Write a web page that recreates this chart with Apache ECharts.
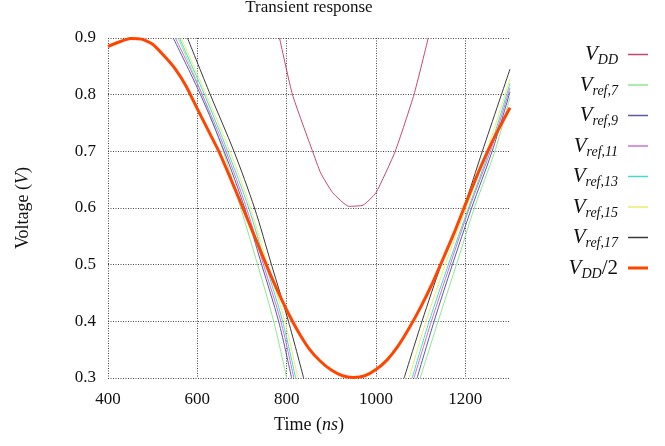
<!DOCTYPE html>
<html>
<head>
<meta charset="utf-8">
<script src="https://cdn.jsdelivr.net/npm/echarts@6/dist/echarts.min.js"></script>
<style>
  html, body { margin: 0; padding: 0; background: #fff; }
  #chart { width: 665px; height: 446px; }
</style>
</head>
<body>
<div id="chart"></div>
<script>
// V_DD/2 (thick orange curve)
const halfTimes = [400, 425, 450, 475, 500, 525, 550, 575, 600, 625, 650, 675, 700, 725, 750, 775, 800, 825, 850, 875, 900, 925, 950, 975, 1000, 1025, 1050, 1075, 1100, 1125, 1150, 1175, 1200, 1225, 1250, 1275, 1300];
const halfValues = [0.885, 0.893, 0.899, 0.898, 0.889, 0.869, 0.846, 0.815, 0.775, 0.736, 0.697, 0.651, 0.604, 0.556, 0.508, 0.462, 0.420, 0.383, 0.352, 0.330, 0.314, 0.304, 0.301, 0.304, 0.315, 0.332, 0.357, 0.389, 0.425, 0.465, 0.510, 0.556, 0.606, 0.655, 0.700, 0.740, 0.777];

// V_DD (only the dip is inside the window)
const vddTimes = [784, 813, 858, 876, 903, 939, 971, 1000, 1043, 1085, 1117];
const vddValues = [0.9, 0.8, 0.7, 0.662, 0.627, 0.603, 0.605, 0.627, 0.7, 0.8, 0.9];

// V_ref curves: times where they cross each level
const fallLevels = [0.9, 0.8, 0.7, 0.6, 0.5, 0.4, 0.3];
const riseLevels = [0.3, 0.4, 0.5, 0.6, 0.7];
const endTime = 1300;

const ref7Fall = [557, 611, 658, 697, 735, 771, 800];
const ref9Fall = [546, 607, 660, 706, 744, 782, 811];
const ref11Fall = [551, 611, 664, 710, 748, 787, 816];
const ref13Fall = [560, 616, 668, 715, 753, 791, 820];
const ref15Fall = [564, 620, 673, 719, 757, 796, 825];
const ref17Fall = [578, 629, 682, 728, 766, 804, 838];

const ref7Rise = [1099, 1139, 1180, 1220, 1266];
const ref9Rise = [1092, 1130, 1171, 1214, 1260];
const ref11Rise = [1085, 1124, 1166, 1209, 1256];
const ref13Rise = [1081, 1119, 1162, 1207, 1253];
const ref15Rise = [1074, 1112, 1155, 1202, 1248];
const ref17Rise = [1063, 1103, 1146, 1196, 1238];

const refEnd = [0.795, 0.805, 0.812, 0.82, 0.828, 0.845];

const seriesNames = ['VDD', 'Vref7', 'Vref9', 'Vref11', 'Vref13', 'Vref15', 'Vref17', 'VDD2'];
const colors = ['#c8466c', '#8fe88f', '#5a5aa8', '#cc70dc', '#40dccc', '#ecec6a', '#3a3a3a', '#ff4500'];

const FONT = 'Liberation Serif';
const THIN_ICON = 'path://M0,0H20V1.5H0Z';
const THICK_ICON = 'path://M0,0H20V3H0Z';

function pairs(xs, ys) {
    return xs.map((x, i) => [x, ys[i]]);
}

function refData(fall, rise, end) {
    return pairs(fall, fallLevels).concat(['-'], pairs(rise, riseLevels), [[endTime, end]]);
}

const refs = [
    [ref7Fall, ref7Rise],
    [ref9Fall, ref9Rise],
    [ref11Fall, ref11Rise],
    [ref13Fall, ref13Rise],
    [ref15Fall, ref15Rise],
    [ref17Fall, ref17Rise]
];

// libellés du legend en texte riche (indices)
const legendLabels = {
    'VDD': '{v|V}{s|DD}',
    'Vref7': '{v|V}{s|ref,7}',
    'Vref9': '{v|V}{s|ref,9}',
    'Vref11': '{v|V}{s|ref,11}',
    'Vref13': '{v|V}{s|ref,13}',
    'Vref15': '{v|V}{s|ref,15}',
    'Vref17': '{v|V}{s|ref,17}',
    'VDD2': '{v|V}{s|DD}{n|/2}'
};

function lineSeries(name, data, color, width, z, smooth) {
    return {
        name: name,
        type: 'line',
        data: data,
        symbol: 'none',
        showSymbol: false,
        connectNulls: false,
        smooth: smooth,
        animation: false,
        z: z,
        lineStyle: { color: color, width: width },
        itemStyle: { color: color }
    };
}

const series = [];
series.push(lineSeries('VDD', pairs(vddTimes, vddValues), colors[0], 1, 2, 0.15));
refs.forEach((r, i) => {
    series.push(lineSeries(seriesNames[i + 1], refData(r[0], r[1], refEnd[i]), colors[i + 1], 1, 3, 0.3));
});
series.push(lineSeries('VDD2', pairs(halfTimes, halfValues), colors[7], 3, 5, 0.2));

const chart = echarts.init(document.getElementById('chart'));

const gridLine = {
    show: true,
    lineStyle: { color: '#444', width: 1, type: [1, 1.5] }
};

chart.setOption({
    backgroundColor: '#fff',
    animation: false,
    title: {
        text: 'Transient response',
        left: 309,
        textAlign: 'center',
        top: -1,
        padding: 0,
        textStyle: { fontFamily: FONT, fontSize: 17, fontWeight: 'normal', color: '#111' }
    },
    grid: { left: 108, right: 155, top: 38, bottom: 68 },
    xAxis: {
        type: 'value',
        min: 400,
        max: 1300,
        interval: 200,
        name: 'Time ({i|ns})',
        nameLocation: 'middle',
        nameGap: 38,
        nameTextStyle: {
            fontFamily: FONT, fontSize: 18, color: '#111',
            rich: { i: { fontFamily: FONT, fontSize: 18, fontStyle: 'italic', color: '#111' } }
        },
        axisLine: { show: false },
        axisTick: { show: false },
        axisLabel: {
            showMaxLabel: false,
            margin: 13,
            fontFamily: FONT, fontSize: 17, color: '#111',
            formatter: v => String(v)
        },
        splitLine: Object.assign({ showMaxLine: false }, gridLine)
    },
    yAxis: {
        type: 'value',
        min: 0.3,
        max: 0.9,
        interval: 0.1,
        name: 'Voltage ({i|V})',
        nameLocation: 'middle',
        nameGap: 76,
        nameTextStyle: {
            fontFamily: FONT, fontSize: 18, color: '#111',
            rich: { i: { fontFamily: FONT, fontSize: 18, fontStyle: 'italic', color: '#111' } }
        },
        axisLine: { show: false },
        axisTick: { show: false },
        axisLabel: {
            margin: 12,
            fontFamily: FONT, fontSize: 17, color: '#111',
            formatter: v => v.toFixed(1)
        },
        splitLine: gridLine
    },
    legend: {
        orient: 'vertical',
        right: 12,
        top: 39,
        align: 'right',
        icon: THIN_ICON,
        itemWidth: 20,
        itemHeight: 12,
        itemGap: 7,
        data: seriesNames.map(n => n === 'VDD2' ? { name: n, icon: THICK_ICON } : { name: n }),
        formatter: name => legendLabels[name],
        textStyle: {
            fontFamily: FONT,
            fontSize: 20,
            color: '#111',
            padding: [0, 5, 0, 0],
            rich: {
                v: { fontFamily: FONT, fontSize: 21, fontStyle: 'italic', color: '#111', lineHeight: 26 },
                s: { fontFamily: FONT, fontSize: 14, fontStyle: 'italic', color: '#111', lineHeight: 26, verticalAlign: 'bottom' },
                n: { fontFamily: FONT, fontSize: 21, color: '#111', lineHeight: 26 }
            }
        }
    },
    series: series
});
</script>
</body>
</html>
